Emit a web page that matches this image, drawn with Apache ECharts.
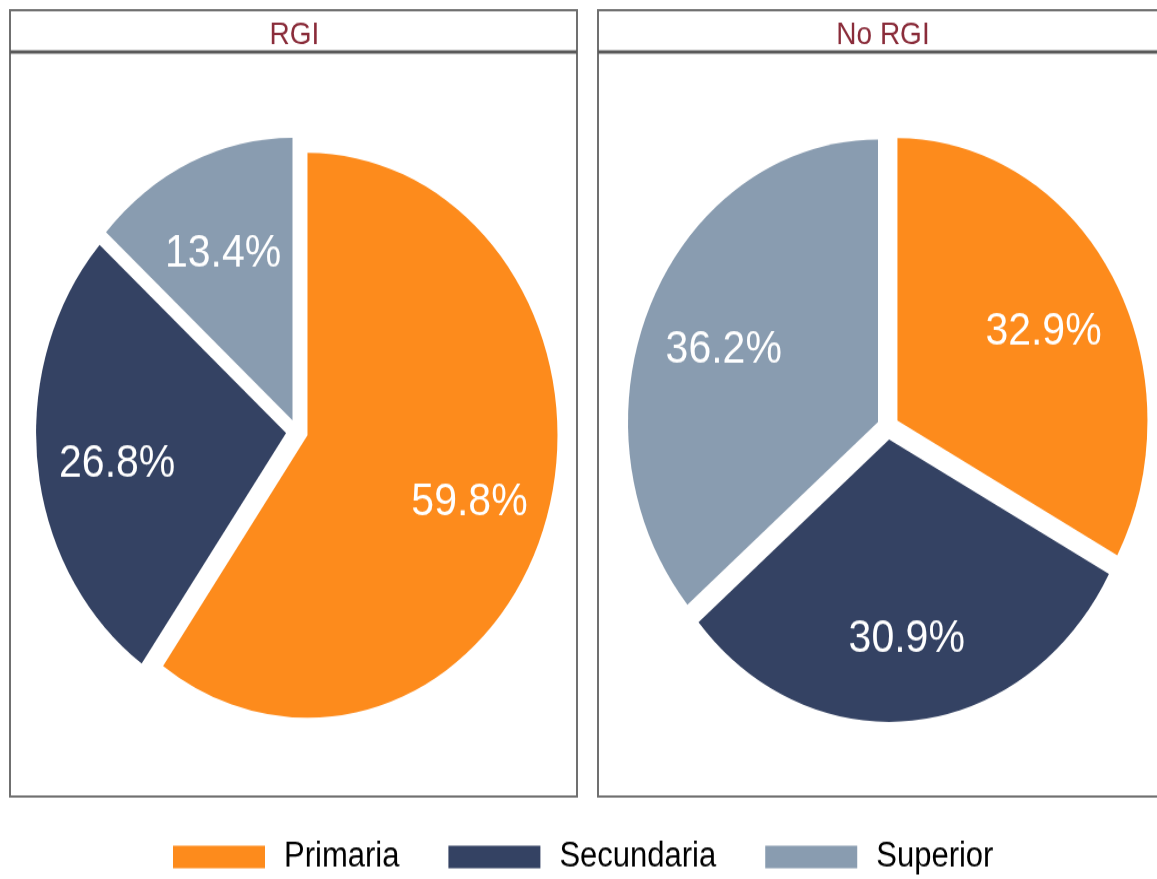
<!DOCTYPE html>
<html>
<head>
<meta charset="utf-8">
<script src="https://cdn.jsdelivr.net/npm/echarts@6/dist/echarts.min.js"></script>
<style>
  html, body { margin: 0; padding: 0; background: #ffffff; }
  #wrap { width: 1157px; height: 879px; overflow: hidden; position: relative; }
  #chart { width: 1157px; height: 778px; transform: scaleY(1.1298); transform-origin: 0 0; }
</style>
</head>
<body>
<div id="wrap"><div id="chart"></div></div>
<script>
// ---- data ----
const categories = ['Primaria', 'Secundaria', 'Superior'];
const rgiValues = [59.8, 26.8, 13.4];
const noRgiValues = [32.9, 30.9, 36.2];
const panelTitles = ['RGI', 'No RGI'];

// ---- styles ----
const sliceColors = ['#FD8B1C', '#344263', '#899CB0'];
const fontFamily = "'Liberation Sans', Arial, Helvetica, sans-serif";

function makeData(values, visible) {
  return categories.map(function (name, i) {
    return {
      name: name,
      value: values[i],
      selected: true,
      itemStyle: { color: visible ? sliceColors[i] : 'rgba(0,0,0,0)' }
    };
  });
}

const centers = [[297, 382], [888, 378]];
const valueSets = [rgiValues, noRgiValues];

const series = [];
// visible pies (no labels)
valueSets.forEach(function (vals, k) {
  series.push({
    type: 'pie',
    name: panelTitles[k],
    center: centers[k],
    radius: [0, 250],
    startAngle: 90,
    clockwise: true,
    selectedMode: 'multiple',
    selectedOffset: 11,
    silent: true,
    label: { show: false },
    labelLine: { show: false },
    itemStyle: { borderWidth: 0 },
    select: { itemStyle: { borderWidth: 0 } },
    emphasis: { disabled: true },
    data: makeData(vals, true)
  });
});
// transparent ring pies carrying the labels
valueSets.forEach(function (vals, k) {
  series.push({
    type: 'pie',
    name: panelTitles[k] + ' labels',
    center: centers[k],
    radius: [84, 250],
    startAngle: 90,
    clockwise: true,
    selectedMode: 'multiple',
    selectedOffset: 11,
    silent: true,
    label: {
      show: true,
      position: 'inside',
      color: '#ffffff',
      fontSize: 41,
      fontFamily: fontFamily,
      formatter: function (p) { return p.value.toFixed(1) + '%'; }
    },
    labelLayout: { dy: 8 },
    labelLine: { show: false },
    itemStyle: { borderWidth: 0 },
    select: { itemStyle: { borderWidth: 0 } },
    emphasis: { disabled: true },
    data: makeData(vals, false)
  });
});

const chart = echarts.init(document.getElementById('chart'), null, { renderer: 'canvas' });
chart.setOption({
  animation: false,
  backgroundColor: '#ffffff',
  title: [
    { text: panelTitles[0], left: 289.5, top: 12, textAlign: 'center',
      textStyle: { color: '#8A2C3A', fontSize: 28, fontWeight: 'normal', fontFamily: fontFamily } },
    { text: panelTitles[1], left: 878, top: 12, textAlign: 'center',
      textStyle: { color: '#8A2C3A', fontSize: 28, fontWeight: 'normal', fontFamily: fontFamily } }
  ],
  legend: {
    data: categories,
    left: 168,
    top: 738,
    orient: 'horizontal',
    icon: 'rect',
    itemWidth: 92,
    itemHeight: 20,
    itemGap: 49,
    selectedMode: false,
    itemStyle: { borderWidth: 0 },
    textStyle: { color: '#000000', fontSize: 31, fontFamily: fontFamily, padding: [0, 0, 0, 14] }
  },
  graphic: [
    { type: 'rect', shape: { x: 10, y: 9, width: 567, height: 696 },
      style: { fill: 'none', stroke: '#707070', lineWidth: 2 }, z: 10, silent: true },
    { type: 'line', shape: { x1: 10, y1: 46, x2: 577, y2: 46 },
      style: { stroke: '#5a5a5a', lineWidth: 3 }, z: 10, silent: true },
    { type: 'rect', shape: { x: 598, y: 9, width: 575, height: 696 },
      style: { fill: 'none', stroke: '#707070', lineWidth: 2 }, z: 10, silent: true },
    { type: 'line', shape: { x1: 598, y1: 46, x2: 1170, y2: 46 },
      style: { stroke: '#5a5a5a', lineWidth: 3 }, z: 10, silent: true }
  ],
  series: series
});
</script>
</body>
</html>
